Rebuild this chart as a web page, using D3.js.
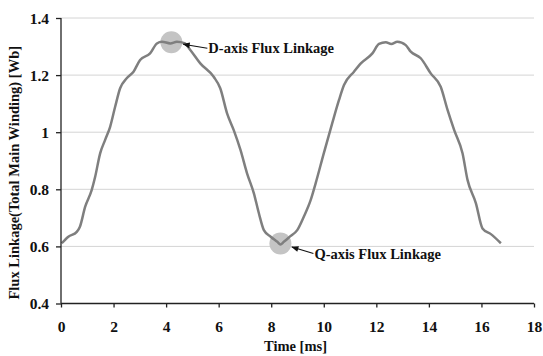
<!DOCTYPE html>
<meta charset="utf-8">
<style>
body { margin: 0; background: #fff; }
text { font-family: "Liberation Serif", "Times New Roman", serif; font-weight: bold; fill: #111; }
.grid line { stroke: #d4d4d4; stroke-width: 1px; }
.axis path, .axis line { stroke: #222; stroke-width: 1.3px; }
.flux { fill: none; stroke: #7f7f7f; stroke-width: 2.5px; }
.marker { fill: #c4c4c4; }
.arrow { stroke: #111; stroke-width: 1.2px; }
</style>
<svg width="543" height="356"></svg>
<script src="https://d3js.org/d3.v7.min.js"></script>
<script>

// time [ms]
var time = [0.03, 0.28, 0.6, 0.72, 0.92, 1.17, 1.3, 1.49, 1.68, 1.87, 2.06, 2.25, 2.5, 2.76, 3.01, 3.39, 3.65, 3.84, 4.16, 4.41, 4.7,
            4.92, 5.3, 5.81, 6.06, 6.32, 6.57, 6.83, 7.08, 7.34, 7.53, 7.72, 7.98, 8.23, 8.35, 8.48, 8.73, 8.99, 9.24, 9.5,
            9.69, 10.0, 10.32, 10.58, 10.77, 11.15, 11.41, 11.85, 12.1, 12.36, 12.57, 12.8, 13.12, 13.31, 13.69,
            14.07, 14.45, 14.71, 14.96, 15.28, 15.47, 15.79, 16.04, 16.36, 16.74];
// flux linkage [Wb]
var flux = [0.611, 0.634, 0.651, 0.669, 0.739, 0.798, 0.844, 0.926, 0.973, 1.019, 1.089, 1.154, 1.189, 1.212, 1.253, 1.276, 1.311, 1.317, 1.311, 1.317, 1.312,
            1.288, 1.241, 1.194, 1.154, 1.066, 1.008, 0.938, 0.856, 0.786, 0.716, 0.657, 0.634, 0.616, 0.607, 0.616, 0.636, 0.657, 0.704, 0.762,
            0.821, 0.926, 1.031, 1.113, 1.165, 1.212, 1.241, 1.276, 1.309, 1.315, 1.309, 1.317, 1.305, 1.282, 1.259,
            1.206, 1.159, 1.078, 1.008, 0.926, 0.833, 0.751, 0.663, 0.643, 0.611];

var xTicks = [0, 2, 4, 6, 8, 10, 12, 14, 16, 18];
var yTicks = [0.4, 0.6, 0.8, 1, 1.2, 1.4];

var notes = [
  {label: "D-axis Flux Linkage", t: 4.2, v: 1.315, dx: 36, dy: 6},
  {label: "Q-axis Flux Linkage", t: 8.35, v: 0.61, dx: 33, dy: 10}
];

var svg = d3.select("svg"),
    margin = {top: 18, right: 9, bottom: 52.5, left: 61},
    width = 543 - margin.left - margin.right,
    height = 356 - margin.top - margin.bottom;

var g = svg.append("g").attr("transform", "translate(" + margin.left + "," + margin.top + ")");

var x = d3.scaleLinear().domain([0, 18]).range([0, width]);
var y = d3.scaleLinear().domain([0.4, 1.4]).range([height, 0]);

g.append("g")
    .attr("class", "grid")
  .selectAll("line")
  .data(yTicks.slice(1))
  .enter().append("line")
    .attr("x1", 0)
    .attr("x2", width)
    .attr("y1", function(d) { return y(d); })
    .attr("y2", function(d) { return y(d); });

var pts = time.map(function(t, i) { return [t, flux[i]]; });

var line = d3.line()
    .x(function(d) { return x(d[0]); })
    .y(function(d) { return y(d[1]); })
    .curve(d3.curveMonotoneX);

notes.forEach(function(n) {
  g.append("circle")
      .attr("class", "marker")
      .attr("cx", x(n.t))
      .attr("cy", y(n.v))
      .attr("r", 11);
});

g.append("path")
    .datum(pts)
    .attr("class", "flux")
    .attr("d", line);

var yAxis = g.append("g")
    .attr("class", "axis")
    .call(d3.axisLeft(y).tickValues(yTicks).tickSize(5).tickSizeOuter(0).tickFormat(d3.format("")));
yAxis.selectAll("text").attr("x", -12).attr("dy", "0.34em").style("font-size", "15.5px");

var xAxis = g.append("g")
    .attr("class", "axis")
    .attr("transform", "translate(0," + height + ")")
    .call(d3.axisBottom(x).tickValues(xTicks).tickSize(4).tickSizeOuter(0));
xAxis.selectAll("text").attr("y", 17).style("font-size", "15.5px");
yAxis.select(".domain").attr("d", "M0,0V" + height);
xAxis.select(".domain").attr("d", "M0,0H" + width);

// arrows
svg.append("defs").append("marker")
    .attr("id", "head")
    .attr("viewBox", "0 0 10 10")
    .attr("refX", 9).attr("refY", 5)
    .attr("markerWidth", 7).attr("markerHeight", 6)
    .attr("orient", "auto")
  .append("path")
    .attr("d", "M0,1L10,5L0,9Z")
    .attr("fill", "#111");

notes.forEach(function(n) {
  var cx = x(n.t), cy = y(n.v);
  var ang = Math.atan2(n.dy, n.dx);
  g.append("line")
      .attr("class", "arrow")
      .attr("x1", cx + n.dx)
      .attr("y1", cy + n.dy)
      .attr("x2", cx + Math.cos(ang) * 12)
      .attr("y2", cy + Math.sin(ang) * 12)
      .attr("marker-end", "url(#head)");
  g.append("text")
      .attr("x", cx + n.dx + 1)
      .attr("y", cy + n.dy + 5)
      .style("font-size", "14.5px")
      .text(n.label);
});

svg.append("text")
    .attr("x", margin.left + width / 2 - 2)
    .attr("y", 351)
    .attr("text-anchor", "middle")
    .style("font-size", "14.5px")
    .text("Time [ms]");

svg.append("text")
    .attr("transform", "translate(19," + (margin.top + height / 2 + 12) + ") rotate(-90)")
    .attr("text-anchor", "middle")
    .style("font-size", "14.5px")
    .text("Flux Linkage(Total Main Winding) [Wb]");

</script>
